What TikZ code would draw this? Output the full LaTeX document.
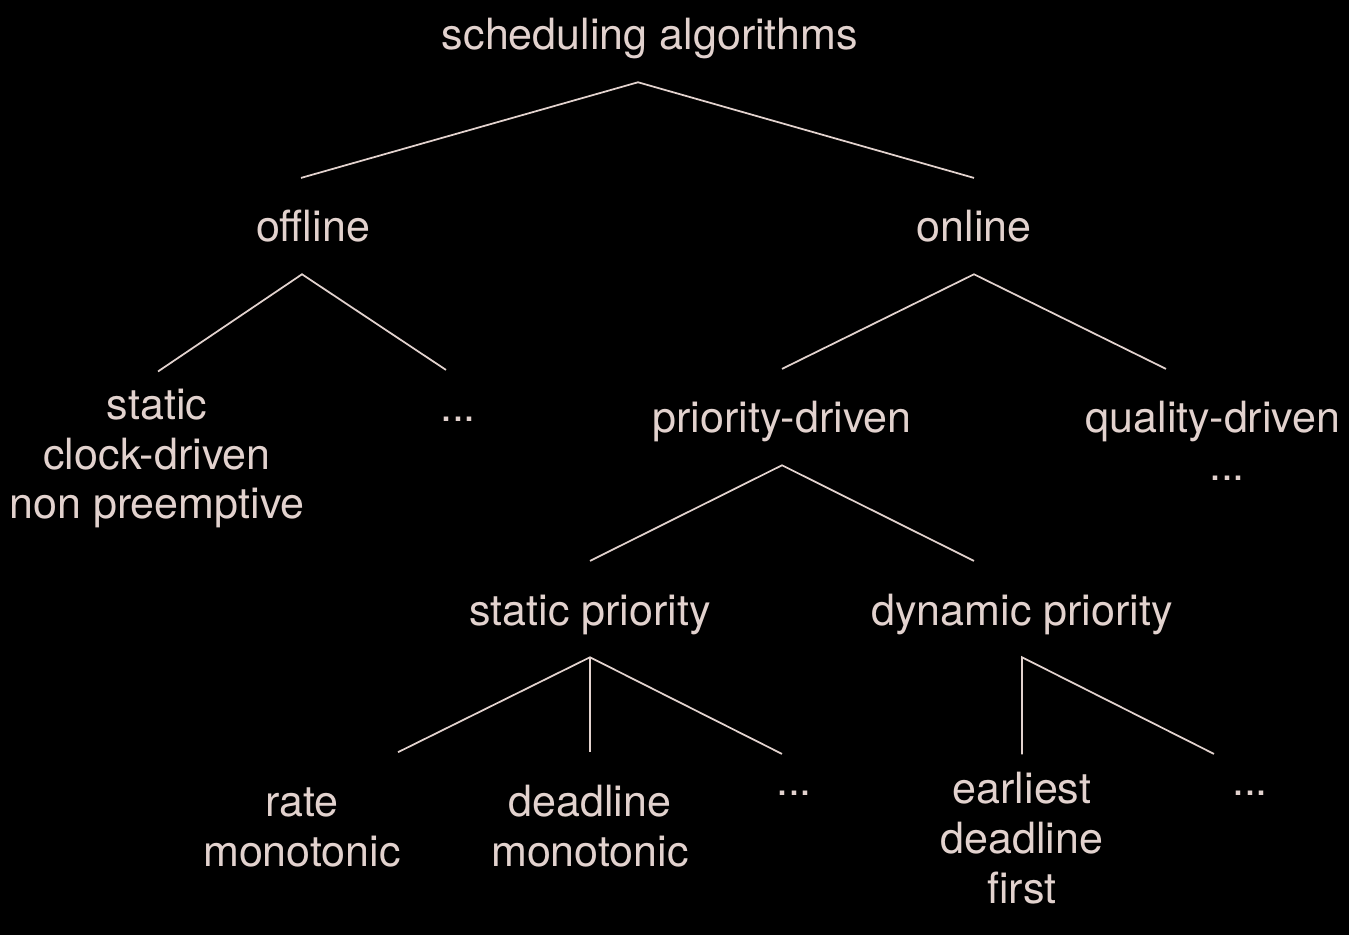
\documentclass[tikz,border=0pt]{standalone}
\usepackage{fontspec}
\setmainfont{TeX Gyre Heros}
\definecolor{petal}{HTML}{E2D2CE}
\tikzset{
  leaf/.style={font=\fontsize{24.5}{28.3}\selectfont, text=petal, align=center, anchor=base,
    inner xsep=0pt, inner ysep=5.67pt, text height=30.6pt},
  fork/.style={leaf, text depth=12.5pt},
  two lines/.style={text height=58.9pt},
  three lines/.style={text height=87.2pt},
  branch/.style={draw=petal, line width=1pt}
}

\begin{document}
\begin{tikzpicture}[x=0.02cm, y=-0.02cm]
  \useasboundingbox (0,0) rectangle (1349,935);
  \fill[black] (0,0) rectangle (1349,935);

  % level 0 and 1
  \node[fork] (sched) at (650,50) {scheduling algorithms};
  \node[fork] (offline) at (313,242) {offline};
  \node[fork] (online) at (974,242) {online};

  % level 2 (multi-line nodes sit on their last baseline)
  \node[leaf, three lines] (clock) at (157,519) {static\\clock-driven\\non preemptive};
  \node[leaf] (offmore) at (458,422) {...};
  \node[fork] (prio) at (782,433) {priority-driven};
  \node[leaf] (quality) at (1213,433) {quality-driven};
  \node[leaf] (qualmore) at (1227,481) {...};

  % level 3
  \node[fork] (static) at (590,625) {static priority};
  \node[fork] (dynamic) at (1022,625) {dynamic priority};

  % level 4
  \node[leaf, two lines] (rate) at (302,866) {rate\\monotonic};
  \node[leaf, two lines] (deadline) at (590,866) {deadline\\monotonic};
  \node[leaf] (statmore) at (794,795) {...};
  \node[leaf, three lines] (edf) at (1022,903) {earliest\\deadline\\first};
  \node[leaf] (dynmore) at (1250,795) {...};

  % connectors
  \draw[branch] ([shift={(-12,0)}]offline.north) -- ([shift={(-12,0)}]sched.south) -- (online.north);
  \draw[branch] ([shift={(1,16)}]clock.north) -- ([shift={(-11,0)}]offline.south) -- ([shift={(-12,12)}]offmore.north);
  \draw[branch] (prio.north) -- (online.south) -- ([shift={(-47,0)}]quality.north);
  \draw[branch] (static.north) -- (prio.south) -- ([shift={(-48,0)}]dynamic.north);
  \draw[branch] ([shift={(96,0)}]rate.north) -- (static.south) -- ([shift={(-12,23)}]statmore.north);
  \draw[branch] (static.south) -- (deadline.north);
  \draw[branch] ([shift={(0,15)}]edf.north) -- (dynamic.south) -- ([shift={(-36,23)}]dynmore.north);
\end{tikzpicture}
\end{document}
